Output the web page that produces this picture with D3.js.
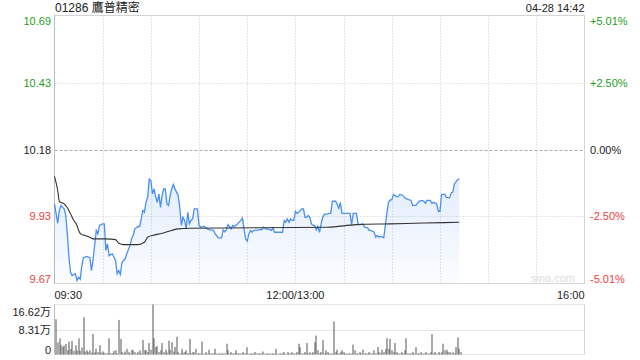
<!DOCTYPE html>
<html>
<head>
<meta charset="utf-8">
<script src="https://cdn.jsdelivr.net/npm/d3@7/dist/d3.min.js"></script>
<style>
    html, body { margin: 0; padding: 0; background: #fff; }
    svg { display: block; font-family: "Liberation Sans", Arial, "Noto Sans CJK TC", sans-serif; }
</style>
</head>
<body>
<svg id="chart" width="640" height="360"></svg>
<script>
const title = "01286 鷹普精密";
const stamp = "04-28 14:42";
const preClose = 10.18;

// trading minutes from 09:30 (lunch break skipped), 330 in the day
const timeLabels = ["09:30", "12:00/13:00", "16:00"];
const timeLabelAt = [0, 150, 330];

const pctTicks = [5.01, 2.50, 0, -2.50, -5.01];
const priceTickLabels = ["10.69", "10.43", "10.18", "9.93", "9.67"];
const pctTickLabels = ["+5.01%", "+2.50%", "0.00%", "-2.50%", "-5.01%"];
const volTickLabels = ["16.62万", "8.31万", "0"];
const volTicks = [16.62, 8.31, 0];

const priceMin = [0, 2, 3, 4, 6, 7, 8, 9, 10, 11, 13, 14, 15, 16, 17, 18, 20, 22, 23, 24,
    25, 26, 27, 28, 30, 31, 32, 33, 34, 36, 37, 38, 39, 40, 41, 42, 44, 45, 47, 48,
    49, 50, 52, 53, 54, 55, 56, 57, 58, 59, 60, 61, 62, 63, 64, 65, 66, 67, 68, 69,
    70, 71, 72, 73, 74, 75, 77, 78, 79, 80, 81, 82, 83, 84, 85, 86, 87, 89, 90, 91,
    93, 95, 97, 99, 100, 102, 104, 105, 106, 107, 108, 109, 110, 111, 112, 114, 116, 117, 118, 119,
    120, 121, 122, 123, 124, 126, 128, 129, 130, 132, 133, 135, 136, 137, 142, 143, 144, 145, 146, 147,
    148, 149, 150, 151, 152, 154, 155, 156, 157, 158, 159, 160, 161, 162, 163, 164, 165, 166, 167, 168,
    170, 171, 172, 173, 175, 176, 177, 178, 179, 184, 185, 186, 188, 189, 190, 192, 193, 195, 196, 197,
    199, 200, 201, 202, 203, 205, 206, 207, 208, 209, 210, 211, 213, 214, 215, 217, 218, 220, 222, 223,
    225, 227, 229, 230, 231, 232, 234, 235, 236, 238, 239, 240, 241, 243, 244, 246, 247, 248, 249, 251,
    252];
const priceVal = [9.973, 9.900, 9.948, 9.967, 9.954, 9.929, 9.859, 9.770, 9.713, 9.700, 9.707, 9.681, 9.694, 9.686, 9.738, 9.768, 9.773, 9.768, 9.719, 9.760,
    9.815, 9.872, 9.859, 9.891, 9.897, 9.897, 9.796, 9.821, 9.776, 9.783, 9.771, 9.758, 9.707, 9.719, 9.704, 9.751, 9.764, 9.783, 9.815, 9.840,
    9.853, 9.878, 9.887, 9.887, 9.916, 9.948, 9.941, 9.979, 9.998, 10.068, 10.062, 10.011, 10.030, 9.998, 9.979, 10.011, 9.960, 10.005, 10.030, 10.030,
    9.973, 9.967, 10.005, 10.030, 10.047, 10.030, 10.005, 9.960, 9.891, 9.922, 9.910, 9.878, 9.941, 9.897, 9.910, 9.916, 9.954, 9.954, 9.891, 9.884,
    9.888, 9.878, 9.874, 9.872, 9.859, 9.844, 9.844, 9.874, 9.867, 9.874, 9.894, 9.887, 9.878, 9.891, 9.887, 9.897, 9.910, 9.919, 9.878, 9.840,
    9.831, 9.859, 9.872, 9.865, 9.872, 9.872, 9.876, 9.874, 9.884, 9.876, 9.878, 9.872, 9.882, 9.865, 9.865, 9.910, 9.903, 9.916, 9.903, 9.916,
    9.910, 9.910, 9.945, 9.937, 9.941, 9.954, 9.954, 9.922, 9.922, 9.929, 9.922, 9.897, 9.891, 9.891, 9.874, 9.887, 9.865, 9.897, 9.922, 9.933,
    9.935, 9.937, 9.937, 9.983, 9.983, 9.973, 9.956, 9.979, 9.937, 9.937, 9.894, 9.937, 9.937, 9.897, 9.894, 9.897, 9.884, 9.882, 9.872, 9.872,
    9.865, 9.846, 9.853, 9.846, 9.850, 9.844, 9.891, 9.941, 9.979, 9.988, 9.988, 10.009, 10.001, 10.001, 10.009, 10.005, 9.996, 9.990, 9.986, 9.967,
    9.967, 9.983, 9.986, 9.983, 9.975, 9.986, 9.986, 9.975, 9.979, 9.973, 9.945, 9.945, 10.009, 10.009, 9.998, 9.996, 10.015, 10.018, 10.049, 10.065,
    10.068];

const avgMin = [0, 2, 3, 6, 8, 10, 12, 14, 15, 17, 19, 22, 24, 32, 38, 40, 43, 52, 56, 58,
    61, 67, 73, 77, 85, 170, 188, 209, 230, 252];
const avgVal = [10.078, 10.024, 9.983, 9.973, 9.958, 9.935, 9.910, 9.891, 9.872, 9.856, 9.853, 9.846, 9.840, 9.840, 9.837, 9.823, 9.818, 9.818, 9.827, 9.846,
    9.853, 9.861, 9.872, 9.878, 9.880, 9.884, 9.894, 9.897, 9.900, 9.903];

// volume per minute, 万 shares, minute 0..252
const volume = [
    11.7, 4.0, 5.4, 3.2, 2.5, 3.0, 3.5, 1.5, 4.3, 1.8,
    4.5, 1.2, 3.0, 1.4, 5.4, 1.2, 2.3, 12.4, 1.0, 1.4,
    0.8, 1.4, 0.6, 6.8, 0.7, 1.9, 0.8, 3.1, 0.6, 1.0,
    0.6, 0.4, 0.4, 5.4, 0.4, 0.5, 1.2, 1.4, 0.3, 11.5,
    5.2, 0.8, 0.4, 1.0, 1.9, 0.8, 0.4, 1.6, 1.4, 0.8,
    0.3, 0.9, 1.4, 0.4, 4.8, 1.5, 1.4, 0.8, 3.8, 1.6,
    16.62, 5.4, 2.5, 2.8, 0.8, 1.4, 3.8, 0.8, 1.6, 0.6,
    4.6, 1.6, 4.1, 1.0, 2.5, 5.9, 0.8, 0.3, 1.9, 0.6,
    0.8, 1.4, 0.5, 5.2, 0.4, 0.8, 0.7, 1.9, 0.3, 0.4,
    0.4, 4.3, 0.3, 0.8, 0.3, 1.6, 0.3, 0.4, 0.4, 1.9,
    0.3, 0.4, 0.3, 0.4, 0.3, 0.4, 3.6, 1.4, 0.3, 0.8,
    0.4, 0.4, 1.4, 0.4, 0.3, 0.4, 0.8, 0.3, 0.4, 2.4,
    0.3, 0.4, 0.3, 0.4, 0.8, 0.4, 0.3, 0.4, 0.3, 1.0,
    0.3, 0.4, 0.3, 0.4, 0.3, 0.4, 0.3, 1.9, 0.3, 0.4,
    0.3, 0.4, 0.8, 0.3, 0.8, 0.4, 0.3, 0.8, 0.4, 0.3,
    0.8, 3.6, 2.5, 0.4, 0.3, 0.8, 3.8, 0.4, 0.8, 0.3,
    0.8, 4.1, 6.3, 1.4, 0.4, 0.8, 4.8, 0.4, 1.4, 0.8,
    0.3, 0.4, 0.3, 11.0, 0.8, 1.6, 0.4, 0.8, 1.4, 0.8,
    0.3, 0.4, 0.3, 0.4, 0.3, 3.3, 1.4, 0.4, 0.3, 0.8,
    0.4, 1.6, 0.3, 0.4, 0.3, 0.8, 0.4, 0.3, 1.4, 0.4,
    2.5, 0.8, 0.4, 1.6, 0.8, 1.9, 5.4, 1.9, 5.2, 1.4,
    0.8, 3.8, 0.8, 0.3, 0.4, 0.8, 0.3, 1.4, 5.4, 0.4,
    0.3, 0.4, 0.8, 0.3, 2.4, 0.4, 0.3, 0.8, 0.3, 0.4,
    0.8, 0.3, 0.4, 0.8, 6.8, 0.4, 0.8, 0.3, 0.8, 0.4,
    0.8, 3.6, 1.4, 1.6, 0.8, 0.8, 0.3, 0.8, 0.4, 2.5,
    5.7, 1.9, 0.8
];

const green = "#1e9e1e";
const red = "#f23b3b";

function drawChart() {
    let svg = d3.select("#chart");

    const area = { left: 54.5, right: 584.5, top: 15.5, bottom: 283.5, volTop: 304.5, volBottom: 354.5 };

    let scX = d3.scaleLinear().domain([0, 330]).range([area.left, area.right]);
    let scY = d3.scaleLinear()
        .domain([preClose * (1 - 0.0501), preClose * (1 + 0.0501)])
        .range([area.bottom, area.top]);
    let scV = d3.scaleLinear().domain([0, 16.62]).range([area.volBottom, area.volTop]);

    // title row
    svg.append("text").attr("x", 55).attr("y", 12).attr("font-size", 12).attr("fill", "#222").text(title);
    svg.append("text").attr("x", area.right).attr("y", 12).attr("font-size", 11).attr("fill", "#222")
        .attr("text-anchor", "end").text(stamp);

    // vertical grid every 30 minutes (price panel only)
    const vLines = d3.range(30, 330, 30);
    svg.append("g").selectAll("line").data(vLines).enter().append("line")
        .attr("x1", d => Math.round(scX(d)) + 0.5).attr("x2", d => Math.round(scX(d)) + 0.5)
        .attr("y1", area.top).attr("y2", area.bottom)
        .attr("stroke", "#ccc").attr("stroke-dasharray", "1,2");

    // horizontal grid
    const pTicks = pctTicks.map(p => preClose * (1 + p / 100));
    svg.append("g").selectAll("line").data(pTicks.slice(1, 4)).enter().append("line")
        .attr("x1", area.left).attr("x2", area.right)
        .attr("y1", d => Math.round(scY(d)) + 0.5).attr("y2", d => Math.round(scY(d)) + 0.5)
        .attr("stroke", (d, i) => i === 1 ? "#aaa" : "#ccc")
        .attr("stroke-dasharray", (d, i) => i === 1 ? "3,2" : "1,2");

    svg.append("line").attr("x1", area.left).attr("x2", area.right)
        .attr("y1", Math.round(scV(8.31)) + 0.5).attr("y2", Math.round(scV(8.31)) + 0.5)
        .attr("stroke", "#ccc").attr("stroke-dasharray", "1,1");
    svg.append("line").attr("x1", area.left).attr("x2", area.right)
        .attr("y1", area.volTop).attr("y2", area.volTop)
        .attr("stroke", "#ccc").attr("stroke-dasharray", "1,1");

    // frames
    svg.append("rect").attr("x", area.left).attr("y", area.top)
        .attr("width", area.right - area.left).attr("height", area.bottom - area.top)
        .attr("fill", "none").attr("stroke", "#d4d4d4");
    svg.append("line").attr("x1", area.left).attr("x2", area.left).attr("y1", area.top).attr("y2", area.bottom)
        .attr("stroke", "#bbb");
    svg.append("line").attr("x1", area.left).attr("x2", area.left).attr("y1", area.volTop).attr("y2", area.volBottom)
        .attr("stroke", "#bbb");
    svg.append("line").attr("x1", area.right).attr("x2", area.right).attr("y1", area.volTop).attr("y2", area.volBottom)
        .attr("stroke", "#d4d4d4");
    svg.append("line").attr("x1", area.left).attr("x2", area.right).attr("y1", area.volBottom).attr("y2", area.volBottom)
        .attr("stroke", "#ccc").attr("stroke-dasharray", "1,1");

    // axis labels
    svg.append("g").selectAll("text").data(pTicks).enter().append("text")
        .attr("x", 51).attr("y", (d, i) => scY(d) + (i === 0 ? 9 : i === 4 ? -1 : 4))
        .attr("text-anchor", "end").attr("font-size", 11)
        .attr("fill", (d, i) => i < 2 ? green : i === 2 ? "#222" : red)
        .text((d, i) => priceTickLabels[i]);
    svg.append("g").selectAll("text").data(pTicks).enter().append("text")
        .attr("x", 590).attr("y", (d, i) => scY(d) + (i === 0 ? 9 : i === 4 ? -1 : 4))
        .attr("font-size", 11)
        .attr("fill", (d, i) => i < 2 ? green : i === 2 ? "#222" : red)
        .text((d, i) => pctTickLabels[i]);
    svg.append("g").selectAll("text").data(volTicks).enter().append("text")
        .attr("x", 51).attr("y", (d, i) => scV(d) + (i === 0 ? 11 : i === 2 ? -1 : 4))
        .attr("text-anchor", "end").attr("font-size", 11).attr("fill", "#222")
        .text((d, i) => volTickLabels[i]);
    svg.append("g").selectAll("text").data(timeLabelAt).enter().append("text")
        .attr("x", d => scX(d)).attr("y", 299)
        .attr("text-anchor", (d, i) => i === 0 ? "start" : i === 2 ? "end" : "middle")
        .attr("font-size", 11).attr("fill", "#222")
        .text((d, i) => timeLabels[i]);

    svg.append("text").attr("x", 553).attr("y", 282).attr("text-anchor", "middle")
        .attr("font-size", 11).attr("fill", "#dcdcdc").text("sina.com");

    // price area + line
    const pts = priceMin.map((m, i) => ({ m: m, p: priceVal[i] }));
    let grad = svg.append("defs").append("linearGradient").attr("id", "fillGrad")
        .attr("gradientUnits", "userSpaceOnUse")
        .attr("x1", 0).attr("x2", 0).attr("y1", scY(10.07)).attr("y2", area.bottom);
    grad.append("stop").attr("offset", "0%").attr("stop-color", "#4a8ef0").attr("stop-opacity", 0.16);
    grad.append("stop").attr("offset", "100%").attr("stop-color", "#4a8ef0").attr("stop-opacity", 0.02);

    svg.append("path").datum(pts)
        .attr("fill", "url(#fillGrad)")
        .attr("d", d3.area().x(d => scX(d.m)).y0(area.bottom - 0.5).y1(d => scY(d.p)));
    svg.append("path").datum(pts)
        .attr("fill", "none").attr("stroke", "#4b8ff0").attr("stroke-width", 1.3)
        .attr("d", d3.line().x(d => scX(d.m)).y(d => scY(d.p)));

    const avg = avgMin.map((m, i) => ({ m: m, p: avgVal[i] }));
    svg.append("path").datum(avg)
        .attr("fill", "none").attr("stroke", "#333").attr("stroke-width", 1.1)
        .attr("d", d3.line().curve(d3.curveMonotoneX).x(d => scX(d.m)).y(d => scY(d.p)));

    // volume bars
    svg.append("g").selectAll("rect").data(volume).enter().append("rect")
        .attr("x", (d, i) => Math.round(scX(i + 0.5)) + 0.5)
        .attr("y", d => scV(d))
        .attr("width", 1)
        .attr("height", d => area.volBottom - scV(d))
        .attr("fill", "#555");
}

drawChart();
</script>
</body>
</html>
